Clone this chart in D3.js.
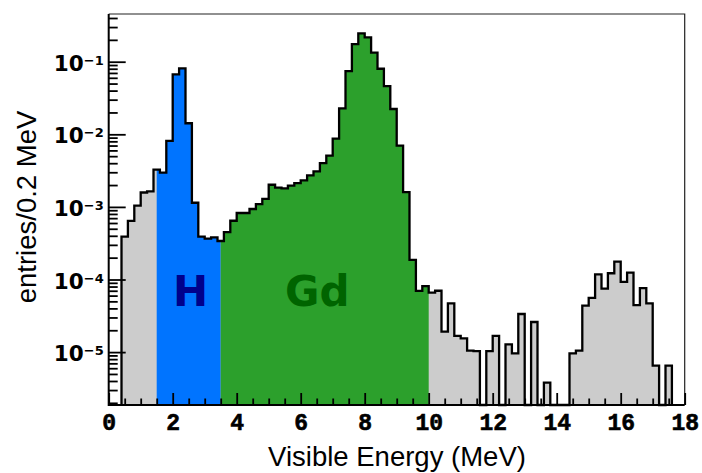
<!DOCTYPE html>
<html>
<head>
<meta charset="utf-8">
<script src="https://cdn.jsdelivr.net/npm/d3@7"></script>
<style>
  body { margin: 0; background: #fff; }
  .ylab { font-family: "DejaVu Sans", sans-serif; font-weight: bold; }
  .xlab { font-family: "Liberation Mono", monospace; font-weight: bold; }
  .title { font-family: "Liberation Sans", Arial, sans-serif; }
</style>
</head>
<body>
<svg id="chart"></svg>
<script>
// histogram: 0.2 MeV bins starting at 0.4 MeV
const binStart = 0.4;
const binWidth = 0.2;
const entries = [
  3.9e-4, 6.4e-4, 1.04e-3, 1.58e-3, 1.64e-3, 3.26e-3, 2.96e-3, 8.1e-3,   // 0.4 - 1.8
  0.067, 0.081, 0.0142, 1.14e-3, 3.9e-4, 3.65e-4, 3.8e-4, 3.39e-4,       // 2.0 - 3.4
  4.5e-4, 6.45e-4, 8.24e-4, 8.24e-4, 9.35e-4, 1.09e-3, 1.29e-3, 2.02e-3,  // 3.6 - 5.0
  1.84e-3, 1.80e-3, 1.96e-3, 2.13e-3, 2.32e-3, 2.72e-3, 3.09e-3, 4.02e-3, // 5.2 - 6.6
  5.07e-3, 8.7e-3, 0.0228, 0.0744, 0.175, 0.246, 0.217, 0.133,           // 6.8 - 8.2
  0.080, 0.0462, 0.0223, 6.97e-3, 1.60e-3, 1.86e-4, 6.95e-5, 8.1e-5,     // 8.4 - 9.8
  6.6e-5, 7.0e-5, 1.91e-5, 4.7e-5, 1.67e-5, 1.55e-5, 1.05e-5, 1.03e-5,   // 10.0 - 11.4
  0, 1.03e-5, 1.67e-5, 0, 1.28e-5, 9.6e-6, 3.35e-5, 0,                   // 11.6 - 13.0
  2.6e-5, 0, 3.8e-6, 0, 0, 0, 9.6e-6, 1.05e-5,                           // 13.2 - 14.6
  4.36e-5, 5.6e-5, 1.18e-4, 7.5e-5, 1.22e-4, 1.76e-4, 9.3e-5, 1.24e-4,   // 14.8 - 16.2
  4.45e-5, 7.6e-5, 4.7e-5, 6.5e-6, 0, 6.5e-6                             // 16.4 - 17.4
];

const regionNames = ["H", "Gd"];
const regionRanges = [[1.5, 3.5], [3.5, 10]];
const regionFills = ["#0074ff", "#2ca02c"];
const regionTextColors = ["#00008b", "#006400"];

const xTicksMajor = [0, 2, 4, 6, 8, 10, 12, 14, 16, 18];
const yTicksMajor = [1e-5, 1e-4, 1e-3, 1e-2, 1e-1];
const yExponents = ["-5", "-4", "-3", "-2", "-1"];

const W = 702, H = 473;
const pLeft = 108.7, pRight = 684.7, pTop = 14, pBottom = 405;

const svg = d3.select("#chart")
    .attr("width", W)
    .attr("height", H);

const x = d3.scaleLinear().domain([0, 18]).range([pLeft, pRight]);
const y = d3.scaleLog().domain([1.868e-6, 0.454]).range([pBottom, pTop]);

// step outline points
const pts = [[x(binStart), pBottom]];
entries.forEach((v, i) => {
    const x0 = binStart + i * binWidth;
    const yy = v > 0 ? y(v) : pBottom;
    pts.push([x(x0), yy]);
    pts.push([x(x0 + binWidth), yy]);
});
pts.push([x(binStart + entries.length * binWidth), pBottom]);

const line = d3.line();
const defs = svg.append("defs");

regionRanges.forEach((r, i) => {
    defs.append("clipPath")
        .attr("id", "clip" + i)
        .append("rect")
        .attr("x", x(r[0]))
        .attr("y", pTop)
        .attr("width", x(r[1]) - x(r[0]))
        .attr("height", pBottom - pTop);
});

// gray for everything, then coloured regions on top
svg.append("path")
    .attr("d", line(pts) + "Z")
    .attr("fill", "#cccccc");

regionRanges.forEach((r, i) => {
    svg.append("path")
        .attr("d", line(pts) + "Z")
        .attr("fill", regionFills[i])
        .attr("clip-path", `url(#clip${i})`);
});

svg.append("path")
    .attr("d", line(pts))
    .attr("fill", "none")
    .attr("stroke", "#000")
    .attr("stroke-width", 2.3)
    .attr("stroke-linejoin", "miter");

// region labels
const labelX = [2.56, 6.52];
regionNames.forEach((n, i) => {
    svg.append("text")
        .attr("x", x(labelX[i]))
        .attr("y", y(4.3e-5))
        .attr("text-anchor", "middle")
        .attr("font-family", "DejaVu Sans, sans-serif")
        .attr("font-weight", "bold")
        .attr("font-size", 42)
        .attr("fill", regionTextColors[i])
        .text(n);
});

// frame
svg.append("path")
    .attr("d", `M${pLeft},${pTop}H${pRight}V${pBottom}`)
    .attr("fill", "none")
    .attr("stroke", "#222")
    .attr("stroke-width", 1.2);

// y ticks (minor then major)
const yMinor = [];
for (let e = -6; e <= -1; e++) {
    for (let m = 2; m <= 9; m++) {
        const v = m * Math.pow(10, e);
        if (v >= 1.868e-6 && v <= 0.454) yMinor.push(v);
    }
}
svg.append("g")
    .attr("transform", `translate(${pLeft},0)`)
    .call(d3.axisLeft(y).tickValues(yMinor).tickSize(-9).tickFormat(""))
    .call(g => g.select(".domain").remove())
    .selectAll("line").attr("stroke-width", 1.8);

const yAxis = svg.append("g")
    .attr("transform", `translate(${pLeft},0)`)
    .call(d3.axisLeft(y).tickValues(yTicksMajor).tickSize(-17).tickFormat(""));
yAxis.select(".domain").remove();
yAxis.selectAll("line").attr("stroke-width", 1.8);

yTicksMajor.forEach((v, i) => {
    const t = svg.append("text")
        .attr("class", "ylab")
        .attr("x", pLeft - 5)
        .attr("y", y(v) + 9)
        .attr("text-anchor", "end")
        .attr("font-size", 21.5);
    t.append("tspan").text("10");
    t.append("tspan")
        .attr("font-size", 13)
        .attr("dy", -6)
        .text(yExponents[i].replace("-", "\u2212"));
});

// x ticks
const xMinor = d3.range(0, 18.01, 0.5).filter(d => d % 2 !== 0);
svg.append("g")
    .attr("transform", `translate(0,${pBottom})`)
    .call(d3.axisBottom(x).tickValues(xMinor).tickSize(-6.5).tickFormat(""))
    .call(g => g.select(".domain").remove())
    .selectAll("line").attr("stroke-width", 1.8);

const xAxis = svg.append("g")
    .attr("transform", `translate(0,${pBottom})`)
    .call(d3.axisBottom(x).tickValues(xTicksMajor).tickSize(-12).tickPadding(8).tickFormat(d3.format("d")));
xAxis.select(".domain").remove();
xAxis.selectAll("line").attr("stroke-width", 1.8);
xAxis.selectAll("text")
    .attr("class", "xlab")
    .attr("font-size", 23)
    .attr("fill", "#000")
    .attr("stroke", "#000")
    .attr("stroke-width", 0.6)
    .attr("dy", 0)
    .attr("y", 25);

// axis lines
svg.append("path")
    .attr("d", `M${pLeft},${pTop}V${pBottom}H${pRight}`)
    .attr("fill", "none")
    .attr("stroke", "#000")
    .attr("stroke-width", 2);

// axis titles
svg.append("text")
    .attr("class", "title")
    .attr("x", 397)
    .attr("y", 466)
    .attr("text-anchor", "middle")
    .attr("font-size", 27.5)
    .text("Visible Energy (MeV)");

svg.append("text")
    .attr("class", "title")
    .attr("transform", "translate(36,207) rotate(-90)")
    .attr("text-anchor", "middle")
    .attr("font-size", 27.5)
    .text("entries/0.2 MeV");
</script>
</body>
</html>
